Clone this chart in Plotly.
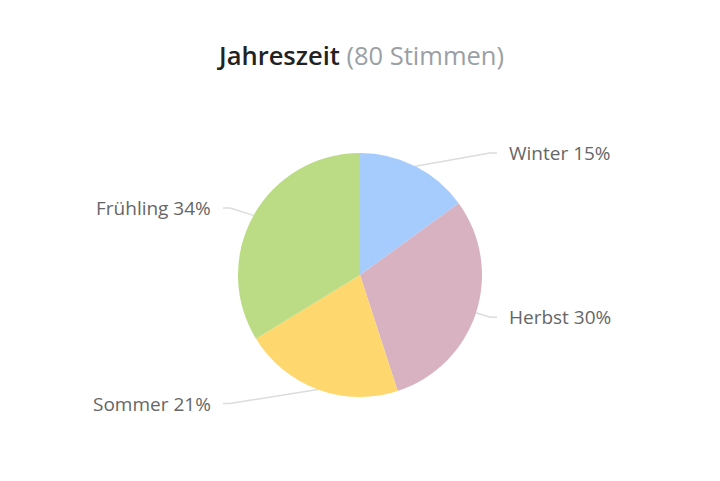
import math
import plotly.graph_objects as go

seasons = ["Winter", "Herbst", "Sommer", "Frühling"]
votes = [12, 24, 17, 27]
colors = ["#a6cbfd", "#d8b2c0", "#fed76e", "#bbdc84"]
title_main = "Jahreszeit"
title_sub = "(80 Stimmen)"

W, H = 720, 481
off = 8  # page body margin
cx, cy, r = 360 - off, 275 - off, 122
label_r = 137

total = sum(votes)
fig = go.Figure()
fig.add_trace(go.Pie(
    labels=seasons, values=votes, sort=False, direction="clockwise", rotation=0,
    marker=dict(colors=colors, line=dict(width=0)),
    textinfo="none", hoverinfo="label+percent", showlegend=False,
    domain=dict(x=[(cx - r) / W, (cx + r) / W],
                y=[(H - cy - r) / H, (H - cy + r) / H]),
))

shapes = []
annotations = []
cum = 0
for name, v in zip(seasons, votes):
    mid = (cum + v / 2) / total * 2 * math.pi
    cum += v
    sx = cx + r * math.sin(mid)
    sy = cy - r * math.cos(mid)
    ly = cy - label_r * math.cos(mid)
    side = 1 if math.sin(mid) >= 0 else -1
    bx = cx + side * 130
    ex = cx + side * 137
    shapes.append(dict(type="path", xref="x", yref="y",
                       path=f"M {sx:.1f} {sy:.1f} L {bx:.1f} {ly:.1f} L {ex:.1f} {ly:.1f}",
                       line=dict(color="#dcdcdc", width=1.5), layer="below"))
    pct = round(v / total * 100)
    annotations.append(dict(x=cx + side * 147, y=ly, xref="x", yref="y",
                            text=f"{name} {pct}%", showarrow=False,
                            xanchor="left" if side > 0 else "right", yanchor="middle",
                            font=dict(family="Open Sans", size=19, color="#666666")))

annotations.append(dict(
    x=360 - off, y=55 - off, xref="x", yref="y", showarrow=False,
    xanchor="center", yanchor="middle",
    text=f"<span style='font-weight:600'>{title_main}</span> <span style='color:#9a9fa5'>{title_sub}</span>",
    font=dict(family="Open Sans", size=25.5, color="#222222")))

fig.update_layout(
    width=W, height=H,
    margin=dict(l=0, r=0, t=0, b=0),
    paper_bgcolor="white", plot_bgcolor="white",
    xaxis=dict(range=[0, W], visible=False, fixedrange=True),
    yaxis=dict(range=[H, 0], visible=False, fixedrange=True),
    shapes=shapes, annotations=annotations,
)

fig.write_html("out.html")
